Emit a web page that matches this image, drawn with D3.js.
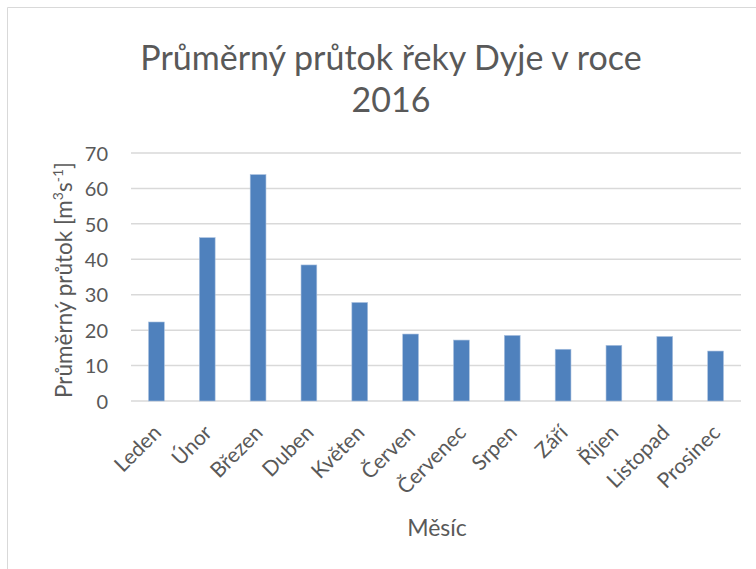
<!DOCTYPE html>
<html>
<head>
<meta charset="utf-8">
<script src="https://cdn.jsdelivr.net/npm/d3@7"></script>
<style>
  body { margin: 0; background: #fff; }
  text { font-family: Lato, "Open Sans", sans-serif; fill: #595959; }
</style>
</head>
<body>
<svg width="756" height="569"></svg>
<script>
var months = ["Leden", "Únor", "Březen", "Duben", "Květen", "Červen",
              "Červenec", "Srpen", "Září", "Říjen", "Listopad", "Prosinec"];
var flow = [22.3, 46.1, 63.9, 38.4, 27.8, 18.9, 17.2, 18.5, 14.6, 15.7, 18.2, 14.1];
var yTicks = [0, 10, 20, 30, 40, 50, 60, 70];

var svg = d3.select("svg"),
    width = +svg.attr("width"),
    height = +svg.attr("height");

var margin = {top: 153, right: 15, bottom: 168, left: 131};

// chart frame
svg.append("path")
  .attr("d", "M7.5," + height + "V7.5H" + width)
  .attr("fill", "none")
  .attr("stroke", "#d9d9d9")
  .attr("stroke-width", 1);

var x = d3.scaleBand()
  .domain(months)
  .range([margin.left, width - margin.right])
  .paddingInner(0.69)
  .paddingOuter(0.345);

var y = d3.scaleLinear()
  .domain([0, 70])
  .range([height - margin.bottom, margin.top]);

// gridlines
svg.append("g")
  .selectAll("line")
  .data(yTicks)
  .enter().append("line")
  .attr("x1", margin.left)
  .attr("x2", width - margin.right)
  .attr("y1", function(d) { return y(d); })
  .attr("y2", function(d) { return y(d); })
  .attr("stroke", "#d9d9d9")
  .attr("stroke-width", 1.5);

var yAxis = svg.append("g")
  .attr("transform", "translate(" + (margin.left - 23) + ",0)")
  .call(d3.axisLeft(y).tickValues(yTicks).tickSize(0).tickPadding(0));
yAxis.select(".domain").remove();
yAxis.selectAll("text")
  .attr("font-size", 20)
  .attr("dy", "0.36em")
  .style("font-family", "Lato, sans-serif")
  .attr("fill", "#595959");

// bars
svg.append("g")
  .selectAll("rect")
  .data(flow)
  .enter().append("rect")
  .attr("x", function(d, i) { return x(months[i]); })
  .attr("width", x.bandwidth())
  .attr("y", function(d) { return y(d); })
  .attr("height", function(d) { return y(0) - y(d); })
  .attr("fill", "#4f81bd")
  .attr("stroke", "#a7bfde")
  .attr("stroke-width", 0.6);

var xAxis = svg.append("g")
  .attr("transform", "translate(0," + y(0) + ")")
  .call(d3.axisBottom(x).tickSize(0).tickPadding(0));
xAxis.select(".domain").remove();
xAxis.selectAll("text")
  .attr("font-size", 21)
  .style("font-family", "Lato, sans-serif")
  .attr("fill", "#595959")
  .attr("text-anchor", "end")
  .attr("y", 0)
  .attr("dy", 0)
  .attr("transform", "translate(6,33) rotate(-45)");

// title
var title = svg.append("text")
  .attr("text-anchor", "middle")
  .attr("font-size", 34);
title.append("tspan").attr("x", 391).attr("y", 70).text("Průměrný průtok řeky Dyje v roce");
title.append("tspan").attr("x", 391).attr("y", 112).text("2016");

// axis titles
var yTitle = svg.append("text")
  .attr("text-anchor", "middle")
  .attr("font-size", 22.5)
  .attr("transform", "translate(72," + ((y(0) + y(70)) / 2 + 3) + ") rotate(-90)");
yTitle.append("tspan").text("Průměrný průtok [m");
yTitle.append("tspan").attr("font-size", 14).attr("dy", -9).text("3");
yTitle.append("tspan").attr("dy", 9).text("s");
yTitle.append("tspan").attr("font-size", 14).attr("dy", -9).text("-1");
yTitle.append("tspan").attr("dy", 9).text("]");

svg.append("text")
  .attr("x", 437)
  .attr("y", 536)
  .attr("text-anchor", "middle")
  .attr("font-size", 23)
  .text("Měsíc");
</script>
</body>
</html>
